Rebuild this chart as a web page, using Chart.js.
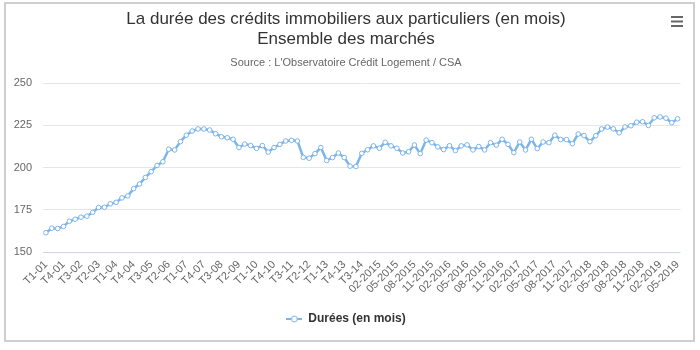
<!DOCTYPE html>
<html lang="fr">
<head>
<meta charset="utf-8">
<title>Durée des crédits immobiliers</title>
<script src="https://cdn.jsdelivr.net/npm/chart.js@4.4.1/dist/chart.umd.min.js"></script>
<style>
    html, body { margin: 0; padding: 0; background: #ffffff; }
    #cadre {
        position: absolute;
        left: 4px;
        top: 2px;
        width: 691px;
        height: 340px;
        box-sizing: border-box;
        border: 2px solid #cfcfcf;
        background: #ffffff;
    }
</style>
</head>
<body>
<div id="cadre"><canvas id="dureeChart"></canvas></div>
<script>
// Trimestres 2001-2014, puis mois 2015 -> mai 2019
const trimestres = ["T1", "T2", "T3", "T4"];
const anneesTrimestrielles = ["01", "02", "03", "04", "05", "06", "07", "08", "09", "10", "11", "12", "13", "14"];
const mois = ["01", "02", "03", "04", "05", "06", "07", "08", "09", "10", "11", "12"];
const anneesMensuelles = ["2015", "2016", "2017", "2018", "2019"];
const dernierMois2019 = 5;

// Durée moyenne des prêts (en mois)
const durees = [
    161.4, 164.1, 163.9, 165.1, 168.2, 169.4, 170.6, 171.2, 173.5, 176.3,
    176.5, 178.5, 179.4, 182.0, 183.2, 187.5, 190.2, 194.1, 197.5, 201.2,
    203.4, 210.8, 210.4, 215.3, 219.1, 221.6, 222.8, 222.8, 222.2, 220.0,
    218.2, 217.6, 216.7, 211.8, 213.9, 213.0, 211.3, 213.0, 209.1, 211.8,
    213.7, 215.7, 216.1, 215.7, 206.0, 205.5, 208.2, 211.8, 204.1, 205.9,
    208.6, 205.9, 200.8, 200.6, 208.4, 210.5, 212.8, 211.4, 214.9, 212.8,
    211.4, 208.6, 209.3, 213.3, 208.2, 216.2, 214.7, 212.2, 210.6, 212.9,
    210.0, 212.8, 213.4, 210.4, 212.4, 210.4, 214.7, 213.2, 216.7, 213.7,
    208.8, 215.1, 210.4, 216.7, 211.2, 215.1, 214.7, 219.1, 216.5, 216.5,
    214.1, 219.8, 218.9, 215.3, 218.8, 222.8, 223.9, 222.9, 220.5, 224.0,
    224.7, 226.8, 227.1, 224.9, 229.4, 229.9, 229.2, 226.5, 228.8
];

const yTicks = [150, 175, 200, 225, 250];

const periodes = [];
anneesTrimestrielles.forEach((a) => {
    trimestres.forEach((t) => periodes.push(t + "-" + a));
});
anneesMensuelles.forEach((a) => {
    mois.forEach((m, k) => {
        if (a === "2019" && k >= dernierMois2019) return;
        periodes.push(m + "-" + a);
    });
});

const couleurSerie = "#7cb5ec";
const police = "'Liberation Sans', Arial, sans-serif";

// Symbole de légende : trait + marqueur rond
const iconeLegende = document.createElement("canvas");
iconeLegende.width = 16;
iconeLegende.height = 10;
(function () {
    const c = iconeLegende.getContext("2d");
    c.strokeStyle = couleurSerie;
    c.lineWidth = 2;
    c.beginPath();
    c.moveTo(0, 5);
    c.lineTo(16, 5);
    c.stroke();
    c.fillStyle = "#ffffff";
    c.lineWidth = 1;
    c.beginPath();
    c.arc(8, 5, 3, 0, Math.PI * 2);
    c.fill();
    c.stroke();
})();

// Icône de menu en haut à droite
const iconeMenu = {
    id: "iconeMenu",
    afterDraw(chart) {
        const c = chart.ctx;
        c.save();
        c.fillStyle = "#666666";
        for (let k = 0; k < 3; k++) {
            c.fillRect(665, 12 + k * 4.5, 12, 2);
        }
        c.restore();
    },
};

new Chart(document.getElementById("dureeChart"), {
    type: "line",
    data: {
        labels: periodes,
        datasets: [
            {
                label: "Durées (en mois)",
                data: durees,
                borderColor: couleurSerie,
                borderWidth: 2.5,
                tension: 0,
                pointRadius: 2.3,
                pointBorderWidth: 1,
                pointBackgroundColor: "#ffffff",
                pointBorderColor: couleurSerie,
                pointHoverRadius: 4,
            },
        ],
    },
    options: {
        responsive: true,
        maintainAspectRatio: false,
        animation: false,
        layout: {
            padding: { top: 0, right: 7, bottom: 5, left: 0 },
        },
        plugins: {
            title: {
                display: true,
                text: ["La durée des crédits immobiliers aux particuliers (en mois)", "Ensemble des marchés"],
                color: "#333333",
                font: { family: police, size: 17, weight: "normal", lineHeight: 1.2 },
                padding: { top: 5, bottom: 0 },
            },
            subtitle: {
                display: true,
                text: "Source : L'Observatoire Crédit Logement / CSA",
                color: "#666666",
                font: { family: police, size: 11, weight: "normal", lineHeight: 1.2 },
                padding: { top: 7, bottom: 13 },
            },
            legend: {
                position: "bottom",
                labels: {
                    usePointStyle: true,
                    pointStyle: iconeLegende,
                    pointStyleWidth: 16,
                    color: "#333333",
                    padding: 10,
                    font: { family: police, size: 12, weight: "bold" },
                },
            },
            tooltip: { enabled: true },
        },
        scales: {
            x: {
                type: "category",
                offset: true,
                grid: { display: false, drawTicks: false },
                border: { display: false },
                afterFit(scale) {
                    scale.height = 51;
                },
                ticks: {
                    autoSkip: false,
                    minRotation: 45,
                    maxRotation: 45,
                    padding: 6,
                    color: "#666666",
                    font: { family: police, size: 11 },
                    callback: function (value, index) {
                        return index % 3 === 0 ? periodes[index] : "";
                    },
                },
            },
            y: {
                min: yTicks[0],
                max: yTicks[yTicks.length - 1],
                afterFit(scale) {
                    scale.width = 37;
                },
                afterBuildTicks(scale) {
                    scale.ticks = yTicks.map((v) => ({ value: v }));
                },
                grid: {
                    drawTicks: false,
                    color: (c) => (c.tick && c.tick.value === 150 ? "#ccd6eb" : "#e6e6e6"),
                },
                border: { display: false },
                ticks: {
                    padding: 11,
                    color: "#666666",
                    font: { family: police, size: 11 },
                },
            },
        },
    },
    plugins: [iconeMenu],
});
</script>
</body>
</html>
